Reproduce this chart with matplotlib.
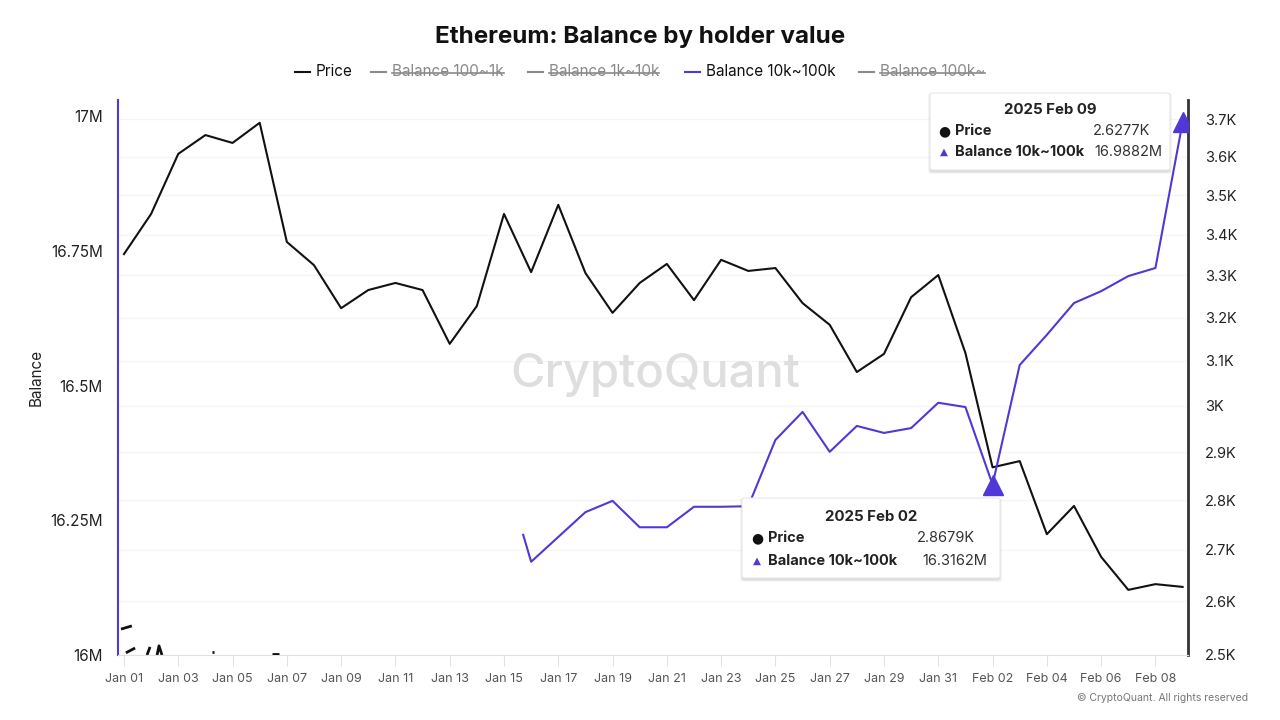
import matplotlib
matplotlib.use('Agg')
import matplotlib.pyplot as plt
import matplotlib.dates as mdates
import matplotlib.ticker as mticker
import numpy as np
import pandas as pd
from matplotlib.patches import FancyBboxPatch
from matplotlib.lines import Line2D

plt.rcParams['font.family'] = ['Inter', 'DejaVu Sans']

# ---------------- data ----------------
dates = pd.date_range('2025-01-01', '2025-02-09', freq='D')
price_k = [3.352, 3.452, 3.607, 3.657, 3.636, 3.690, 3.382, 3.325, 3.222, 3.265,
           3.282, 3.265, 3.139, 3.227, 3.452, 3.308, 3.475, 3.306, 3.211, 3.282,
           3.328, 3.241, 3.338, 3.311, 3.318, 3.234, 3.183, 3.075, 3.116, 3.248,
           3.301, 3.118, 2.8679, 2.881, 2.731, 2.788, 2.686, 2.622, 2.633, 2.6277]

bal_dates = pd.to_datetime(['2025-01-15 17:00', '2025-01-16', '2025-01-17', '2025-01-18',
                            '2025-01-19', '2025-01-20', '2025-01-21', '2025-01-22',
                            '2025-01-23', '2025-01-24', '2025-01-25', '2025-01-26',
                            '2025-01-27', '2025-01-28', '2025-01-29', '2025-01-30',
                            '2025-01-31', '2025-02-01', '2025-02-02', '2025-02-03',
                            '2025-02-04', '2025-02-05', '2025-02-06', '2025-02-07',
                            '2025-02-08', '2025-02-09'], format='mixed')
bal_10k_100k_m = [16.223, 16.173, 16.219, 16.265, 16.286, 16.237, 16.237, 16.275,
                  16.275, 16.276, 16.399, 16.451, 16.377, 16.425, 16.412, 16.421,
                  16.468, 16.460, 16.3162, 16.538, 16.594, 16.653, 16.675, 16.703,
                  16.718, 16.9882]

# small residual fragments of hidden series near the bottom-left (day offset, balance M)
residue_days = [[-0.11, 0.29], [0.07, 0.41], [0.85, 0.96], [1.22, 1.29, 1.40], [3.24, 3.31], [5.45, 5.7]]
residue_vals = [[16.048, 16.054], [16.004, 16.013], [16.0, 16.015], [16.0, 16.017, 16.0],
                [16.006, 16.006], [16.002, 16.002]]

left_ticks = [16.0, 16.25, 16.5, 16.75, 17.0]
left_labels = ['16M', '16.25M', '16.5M', '16.75M', '17M']
right_ticks = [2.5, 2.6, 2.7, 2.8, 2.9, 3.0, 3.1, 3.2, 3.3, 3.4, 3.5, 3.6, 3.7]
right_labels = ['2.5K', '2.6K', '2.7K', '2.8K', '2.9K', '3K', '3.1K', '3.2K', '3.3K',
                '3.4K', '3.5K', '3.6K', '3.7K']
xtick_dates = pd.date_range('2025-01-01', '2025-02-08', freq='2D')

tooltips = [
    dict(title='2025 Feb 09', price='2.6277K', bal='16.9882M'),
    dict(title='2025 Feb 02', price='2.8679K', bal='16.3162M'),
]
marker_dates = pd.to_datetime(['2025-02-02', '2025-02-09'])
marker_vals = [16.3162, 16.9882]

PURPLE = '#5038d6'
GRAY = '#8a8a8a'

# ---------------- figure ----------------
W, H = 1280, 720
fig = plt.figure(figsize=(12.8, 7.2), dpi=100)
fig.patch.set_facecolor('white')


def fx(px):
    return px / W


def fy(py):
    return 1 - py / H


ax = fig.add_axes([fx(118), fy(655), fx(1188) - fx(118), fy(100) - fy(655)])
ax2 = ax.twinx()

x0 = mdates.date2num(pd.Timestamp('2025-01-01'))
ax.set_xlim(x0 - 0.22, x0 + 39.2)
ax.set_ylim(16.0, 17.0297)

# price on right log axis
ax2.set_yscale('log')
ax2.set_ylim(2.5, 3.752)
ax2.plot(dates, price_k, color='#111111', lw=1.5, zorder=3)
ax2.yaxis.set_major_locator(mticker.FixedLocator(right_ticks))
ax2.yaxis.set_minor_locator(mticker.NullLocator())
ax2.set_yticklabels(right_labels)
ax2.tick_params(axis='y', length=0, pad=12, labelsize=10.5, labelcolor='#222222')
ax2.grid(axis='y', color='#f5f5f5', lw=1)
ax2.set_axisbelow(True)

# balance on left axis
ax.plot(bal_dates, bal_10k_100k_m, color=PURPLE, lw=1.5, zorder=4)
for dx, dv in zip(residue_days, residue_vals):
    ax.plot([x0 + d for d in dx], dv, color='#111111', lw=2, solid_capstyle='butt', zorder=4)
ax.plot(marker_dates, marker_vals, linestyle='none', marker='^', markersize=15,
        color=PURPLE, zorder=6)
ax.set_yticks(left_ticks)
ax.set_yticklabels(left_labels)
ax.tick_params(axis='y', length=0, pad=11, labelsize=11, labelcolor='#222222')
ax.set_ylabel('Balance', fontsize=11, color='#222222')
ax.yaxis.set_label_coords(-(118 - 44) / (1188 - 118), 0.5)

ax.set_xticks([mdates.date2num(d) for d in xtick_dates])
ax.set_xticklabels([d.strftime('%b %d') for d in xtick_dates])
ax.tick_params(axis='x', length=8, color='#e2e2e2', pad=5, labelsize=9, labelcolor='#555555')

# put left axis on top of twin for line drawing
ax.set_zorder(ax2.get_zorder() + 1)
ax.patch.set_visible(False)

for a in (ax, ax2):
    a.spines['top'].set_visible(False)
ax.spines['left'].set_color(PURPLE)
ax.spines['left'].set_linewidth(1.5)
ax.spines['right'].set_visible(False)
ax.spines['bottom'].set_color('#e2e2e2')
ax2.spines['left'].set_visible(False)
ax2.spines['bottom'].set_visible(False)
ax2.spines['right'].set_color('#333333')
ax2.spines['right'].set_linewidth(2)

# watermark
fig.text(fx(655), fy(375), 'CryptoQuant', fontsize=34, color='#dedede',
         ha='center', va='center', fontweight='medium', zorder=0)

# title
fig.text(fx(640), fy(37), 'Ethereum: Balance by holder value', fontsize=17.4,
         fontweight='bold', ha='center', va='center', color='#111111')

# legend
legend_items = [
    (295, 'Price', '#111111', '#111111', False),
    (371, 'Balance 100~1k', GRAY, GRAY, True),
    (528, 'Balance 1k~10k', GRAY, GRAY, True),
    (685, 'Balance 10k~100k', PURPLE, '#111111', False),
    (859, 'Balance 100k~', GRAY, GRAY, True),
]
renderer = fig.canvas.get_renderer()
ly = 72
for xs, label, lc, tc, strike in legend_items:
    fig.add_artist(Line2D([fx(xs), fx(xs + 15)], [fy(ly), fy(ly)], color=lc, lw=1.5))
    t = fig.text(fx(xs + 21), fy(ly), label, fontsize=11, color=tc, ha='left', va='center')
    if strike:
        bb = t.get_window_extent(renderer=renderer)
        fig.add_artist(Line2D([bb.x0 / W, bb.x1 / W], [fy(ly + 1), fy(ly + 1)],
                              color=GRAY, lw=1.2))

# tooltips


def tooltip(x0p, y0p, x1p, y1p, tip, dot_x, lbl_x, val_x1, val_x2, rows_y, title_y):
    for k, a in enumerate([0.05, 0.05, 0.04]):
        shadow = FancyBboxPatch((fx(x0p - k), fy(y1p + 2 + k)), fx(x1p - x0p + 2 * k),
                                (y1p - y0p + 2 * k) / H,
                                boxstyle='round,pad=0,rounding_size=0.003',
                                transform=fig.transFigure, facecolor='#000000', alpha=a,
                                edgecolor='none', zorder=9)
        fig.add_artist(shadow)
    box = FancyBboxPatch((fx(x0p), fy(y1p)), fx(x1p - x0p), (y1p - y0p) / H,
                         boxstyle='round,pad=0,rounding_size=0.003',
                         transform=fig.transFigure, facecolor='white',
                         edgecolor='#e8e8e8', lw=0.8, zorder=10)
    fig.add_artist(box)
    fig.text(fx((x0p + x1p) / 2), fy(title_y), tip['title'], fontsize=10.8, fontweight='bold',
             ha='center', va='center', color='#222222', zorder=11)
    fig.text(fx(dot_x), fy(rows_y[0]), '\u25cf', fontsize=10, ha='center', va='center',
             color='#111111', zorder=11, family=['DejaVu Sans'])
    fig.text(fx(lbl_x), fy(rows_y[0]), 'Price', fontsize=10.5, fontweight='bold',
             ha='left', va='center', color='#222222', zorder=11)
    fig.text(fx(val_x1), fy(rows_y[0]), tip['price'], fontsize=10.5,
             ha='right', va='center', color='#333333', zorder=11)
    fig.text(fx(dot_x), fy(rows_y[1]), '\u25b2', fontsize=7.5, ha='center', va='center',
             color=PURPLE, zorder=11, family=['DejaVu Sans'])
    fig.text(fx(lbl_x), fy(rows_y[1]), 'Balance 10k~100k', fontsize=10.5, fontweight='bold',
             ha='left', va='center', color='#222222', zorder=11)
    fig.text(fx(val_x2), fy(rows_y[1]), tip['bal'], fontsize=10.5,
             ha='right', va='center', color='#333333', zorder=11)


tooltip(930, 93, 1170, 170, tooltips[0], 944, 955, 1150, 1162, (131, 152), 110)
tooltip(742, 498, 1000, 578, tooltips[1], 757, 768, 975, 987, (538, 561), 517)

# copyright
fig.text(fx(1248), fy(698), '\u00a9 CryptoQuant. All rights reserved', fontsize=7.5,
         color='#777777', ha='right', va='center')

fig.savefig('out.png', dpi=100, facecolor='white')
